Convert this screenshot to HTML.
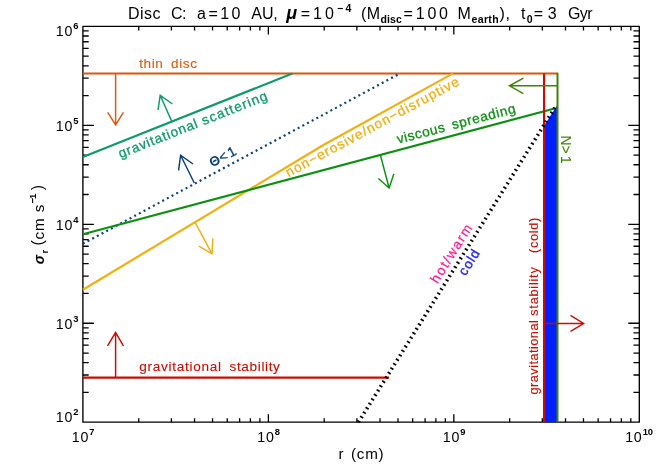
<!DOCTYPE html><html><head><meta charset="utf-8"><style>html,body{margin:0;padding:0;background:#fff;}svg{display:block;font-family:"Liberation Sans",sans-serif;will-change:transform;mix-blend-mode:multiply;}</style></head><body>
<svg width="664" height="475" viewBox="0 0 664 475">
<rect width="664" height="475" fill="#fff"/>
<path d="M138.73 422.2v-4M138.73 26.4v4M171.39 422.2v-4M171.39 26.4v4M194.56 422.2v-4M194.56 26.4v4M212.54 422.2v-4M212.54 26.4v4M227.22 422.2v-4M227.22 26.4v4M239.64 422.2v-4M239.64 26.4v4M250.39 422.2v-4M250.39 26.4v4M259.88 422.2v-4M259.88 26.4v4M268.37 422.2v-8M268.37 26.4v8M324.20 422.2v-4M324.20 26.4v4M356.86 422.2v-4M356.86 26.4v4M380.03 422.2v-4M380.03 26.4v4M398.00 422.2v-4M398.00 26.4v4M412.69 422.2v-4M412.69 26.4v4M425.10 422.2v-4M425.10 26.4v4M435.86 422.2v-4M435.86 26.4v4M445.35 422.2v-4M445.35 26.4v4M453.83 422.2v-8M453.83 26.4v8M509.66 422.2v-4M509.66 26.4v4M542.32 422.2v-4M542.32 26.4v4M565.50 422.2v-4M565.50 26.4v4M583.47 422.2v-4M583.47 26.4v4M598.15 422.2v-4M598.15 26.4v4M610.57 422.2v-4M610.57 26.4v4M621.33 422.2v-4M621.33 26.4v4M630.81 422.2v-4M630.81 26.4v4M82.9 95.56h5.8M639.3 95.56h-5.8M82.9 78.14h5.8M639.3 78.14h-5.8M82.9 65.78h5.8M639.3 65.78h-5.8M82.9 56.19h5.8M639.3 56.19h-5.8M82.9 48.35h5.8M639.3 48.35h-5.8M82.9 41.73h5.8M639.3 41.73h-5.8M82.9 35.99h5.8M639.3 35.99h-5.8M82.9 30.93h5.8M639.3 30.93h-5.8M82.9 125.35h11M639.3 125.35h-11M82.9 194.51h5.8M639.3 194.51h-5.8M82.9 177.09h5.8M639.3 177.09h-5.8M82.9 164.73h5.8M639.3 164.73h-5.8M82.9 155.14h5.8M639.3 155.14h-5.8M82.9 147.30h5.8M639.3 147.30h-5.8M82.9 140.68h5.8M639.3 140.68h-5.8M82.9 134.94h5.8M639.3 134.94h-5.8M82.9 129.88h5.8M639.3 129.88h-5.8M82.9 224.30h11M639.3 224.30h-11M82.9 293.46h5.8M639.3 293.46h-5.8M82.9 276.04h5.8M639.3 276.04h-5.8M82.9 263.68h5.8M639.3 263.68h-5.8M82.9 254.09h5.8M639.3 254.09h-5.8M82.9 246.25h5.8M639.3 246.25h-5.8M82.9 239.63h5.8M639.3 239.63h-5.8M82.9 233.89h5.8M639.3 233.89h-5.8M82.9 228.83h5.8M639.3 228.83h-5.8M82.9 323.25h11M639.3 323.25h-11M82.9 392.41h5.8M639.3 392.41h-5.8M82.9 374.99h5.8M639.3 374.99h-5.8M82.9 362.63h5.8M639.3 362.63h-5.8M82.9 353.04h5.8M639.3 353.04h-5.8M82.9 345.20h5.8M639.3 345.20h-5.8M82.9 338.58h5.8M639.3 338.58h-5.8M82.9 332.84h5.8M639.3 332.84h-5.8M82.9 327.78h5.8M639.3 327.78h-5.8" stroke="#000" stroke-width="1.3" fill="none"/>
<rect x="82.9" y="26.4" width="556.4" height="395.8" fill="none" stroke="#000" stroke-width="1.35" stroke-linejoin="round"/>
<polygon points="545,422.2 545,124.3 557,105.5 557,422.2" fill="#0020FF"/>
<line x1="82.9" y1="73.5" x2="557.5" y2="73.5" stroke="#DC5808" stroke-width="2.1" />
<line x1="82.9" y1="157" x2="292.3" y2="73.6" stroke="#0F9A6C" stroke-width="2.2" />
<line x1="82.9" y1="243.7" x2="399.8" y2="73.6" stroke="#0B3F7A" stroke-width="2.2" stroke-dasharray="2 3.3"/>
<polyline points="82.9,289.7 323,145.2 453.1,73.4" fill="none" stroke="#F0B010" stroke-width="2.2"/>
<line x1="82.9" y1="234.3" x2="555.5" y2="108.3" stroke="#0C9012" stroke-width="2.2" />
<line x1="82.9" y1="377.6" x2="389" y2="377.6" stroke="#CC0C00" stroke-width="2.2" />
<line x1="557.5" y1="72.7" x2="557.5" y2="422.2" stroke="#3F8208" stroke-width="2" />
<line x1="544.1" y1="73.6" x2="544.1" y2="422.2" stroke="#CC0C00" stroke-width="2.2" />
<line x1="358.4" y1="422.2" x2="555.9" y2="106" stroke="#000" stroke-width="3.6" stroke-dasharray="1.7 3.5"/>
<path d="M115.6 73.6L115.6 124.9M107.7 112.3L115.6 124.9L123.4 112.3" fill="none" stroke="#DC5808" stroke-width="1.45" stroke-linejoin="miter"/>
<path d="M171.5 120.9L160.2 95.3M158 110.2L160.2 95.3L172.5 104" fill="none" stroke="#0F9A6C" stroke-width="1.45" stroke-linejoin="miter"/>
<path d="M194.3 183L180.6 155.2M178.6 170.3L180.6 155.2L193 164" fill="none" stroke="#0B3F7A" stroke-width="1.45" stroke-linejoin="miter"/>
<path d="M195 222.2L212 253.8M198.8 246.2L212 253.8L212.9 238.4" fill="none" stroke="#F0B010" stroke-width="1.45" stroke-linejoin="miter"/>
<path d="M380.3 154.8L389.1 188M378.4 178.5L389.1 188L393.9 173.7" fill="none" stroke="#0C9012" stroke-width="1.45" stroke-linejoin="miter"/>
<path d="M557.5 85.8L509.5 85.8M523.4 78.2L509.5 85.8L523.4 93.6" fill="none" stroke="#3F8208" stroke-width="1.45" stroke-linejoin="miter"/>
<path d="M115.6 377.6L115.6 332.5M107.5 345.8L115.6 332.5L123.4 345.8" fill="none" stroke="#CC0C00" stroke-width="1.45" stroke-linejoin="miter"/>
<path d="M544.1 323.5L583.6 323.5M570.5 315.4L583.6 323.5L570.5 331.3" fill="none" stroke="#CC0C00" stroke-width="1.45" stroke-linejoin="miter"/>
<text x="71.85000000000001" y="442.4" font-size="14.2" fill="#000" text-anchor="start" textLength="16.6" lengthAdjust="spacing" >10</text>
<text x="89.35000000000001" y="435.09999999999997" font-size="9.4" fill="#000" text-anchor="start" font-weight="bold">7</text>
<text x="257.31666666666666" y="442.4" font-size="14.2" fill="#000" text-anchor="start" textLength="16.6" lengthAdjust="spacing" >10</text>
<text x="274.81666666666666" y="435.09999999999997" font-size="9.4" fill="#000" text-anchor="start" font-weight="bold">8</text>
<text x="442.78333333333336" y="442.4" font-size="14.2" fill="#000" text-anchor="start" textLength="16.6" lengthAdjust="spacing" >10</text>
<text x="460.28333333333336" y="435.09999999999997" font-size="9.4" fill="#000" text-anchor="start" font-weight="bold">9</text>
<text x="625.15" y="442.4" font-size="14.2" fill="#000" text-anchor="start" textLength="16.6" lengthAdjust="spacing" >10</text>
<text x="642.65" y="435.09999999999997" font-size="9.4" fill="#000" text-anchor="start" font-weight="bold">10</text>
<text x="55.8" y="36.0" font-size="14.2" fill="#000" text-anchor="start" textLength="16.6" lengthAdjust="spacing" >10</text>
<text x="73.3" y="28.7" font-size="9.4" fill="#000" text-anchor="start" font-weight="bold">6</text>
<text x="55.8" y="131.25" font-size="14.2" fill="#000" text-anchor="start" textLength="16.6" lengthAdjust="spacing" >10</text>
<text x="73.3" y="123.95" font-size="9.4" fill="#000" text-anchor="start" font-weight="bold">5</text>
<text x="55.8" y="230.20000000000002" font-size="14.2" fill="#000" text-anchor="start" textLength="16.6" lengthAdjust="spacing" >10</text>
<text x="73.3" y="222.9" font-size="9.4" fill="#000" text-anchor="start" font-weight="bold">4</text>
<text x="55.8" y="329.15" font-size="14.2" fill="#000" text-anchor="start" textLength="16.6" lengthAdjust="spacing" >10</text>
<text x="73.3" y="321.84999999999997" font-size="9.4" fill="#000" text-anchor="start" font-weight="bold">3</text>
<text x="55.8" y="422.0" font-size="14.2" fill="#000" text-anchor="start" textLength="16.6" lengthAdjust="spacing" >10</text>
<text x="73.3" y="414.7" font-size="9.4" fill="#000" text-anchor="start" font-weight="bold">2</text>
<text x="338.6" y="459.0" font-size="15.2" fill="#000" text-anchor="start" >r</text>
<text x="351.0" y="459.0" font-size="15.2" fill="#000" text-anchor="start" textLength="32.6" lengthAdjust="spacing" >(cm)</text>
<text x="44.2" y="264.2" font-size="14.2" fill="#000" text-anchor="start" transform="rotate(-90 44.2 264.2)" font-weight="bold" font-style="italic">&#963;</text>
<text x="47.800000000000004" y="253.4" font-size="9.6" fill="#000" text-anchor="start" transform="rotate(-90 47.800000000000004 253.4)" font-weight="bold">r</text>
<text x="43.2" y="245.6" font-size="15.799999999999999" fill="#000" text-anchor="start" transform="rotate(-90 43.2 245.6)" >(</text>
<text x="44.2" y="239.4" font-size="15.2" fill="#000" text-anchor="start" textLength="21" lengthAdjust="spacing" transform="rotate(-90 44.2 239.4)" >cm</text>
<text x="44.2" y="212.2" font-size="15.2" fill="#000" text-anchor="start" transform="rotate(-90 44.2 212.2)" >s</text>
<text x="36.400000000000006" y="203.2" font-size="9.8" fill="#000" text-anchor="start" textLength="9.6" lengthAdjust="spacing" transform="rotate(-90 36.400000000000006 203.2)" font-weight="bold">&#8722;1</text>
<text x="43.2" y="190.2" font-size="15.799999999999999" fill="#000" text-anchor="start" transform="rotate(-90 43.2 190.2)" >)</text>
<text x="128" y="18.8" font-size="16" fill="#000" text-anchor="start" textLength="32.5" lengthAdjust="spacing" >Disc</text>
<text x="171" y="18.8" font-size="16" fill="#000" text-anchor="start" textLength="15.5" lengthAdjust="spacing" >C:</text>
<text x="197" y="18.8" font-size="16" fill="#000" text-anchor="start" textLength="43.5" lengthAdjust="spacing" >a=10</text>
<text x="251.3" y="18.8" font-size="16" fill="#000" text-anchor="start" textLength="26.5" lengthAdjust="spacing" >AU,</text>
<text x="286.2" y="18.8" font-size="18" fill="#000" text-anchor="start" font-weight="bold" font-style="italic">&#956;</text>
<text x="300.7" y="18.8" font-size="16" fill="#000" text-anchor="start" textLength="33.3" lengthAdjust="spacing" >=10</text>
<text x="337" y="12.0" font-size="10.5" fill="#000" text-anchor="start" textLength="14.4" lengthAdjust="spacing" font-weight="bold">&#8722;4</text>
<text x="360.9" y="18.8" font-size="16" fill="#000" text-anchor="start" textLength="19.1" lengthAdjust="spacing" >(M</text>
<text x="380.6" y="23.0" font-size="10.5" fill="#000" text-anchor="start" textLength="21.2" lengthAdjust="spacing" font-weight="bold">disc</text>
<text x="403.5" y="18.8" font-size="16" fill="#000" text-anchor="start" textLength="44.5" lengthAdjust="spacing" >=100</text>
<text x="457.6" y="18.8" font-size="16" fill="#000" text-anchor="start" >M</text>
<text x="471.5" y="23.0" font-size="10.5" fill="#000" text-anchor="start" textLength="27.1" lengthAdjust="spacing" font-weight="bold">earth</text>
<text x="499.6" y="18.8" font-size="16" fill="#000" text-anchor="start" textLength="10.4" lengthAdjust="spacing" >),</text>
<text x="520.9" y="18.8" font-size="16" fill="#000" text-anchor="start" >t</text>
<text x="526.8" y="23.0" font-size="10.5" fill="#000" text-anchor="start" font-weight="bold">0</text>
<text x="533.7" y="18.8" font-size="16" fill="#000" text-anchor="start" textLength="23" lengthAdjust="spacing" >=3</text>
<text x="568" y="18.8" font-size="16" fill="#000" text-anchor="start" textLength="24.6" lengthAdjust="spacing" >Gyr</text>
<text x="139.2" y="68.2" font-size="13.6" fill="#DC5808" text-anchor="start" textLength="23.6" lengthAdjust="spacing" stroke-width="0.1" stroke="#DC5808">thin</text>
<text x="171.0" y="68.2" font-size="13.6" fill="#DC5808" text-anchor="start" textLength="26.0" lengthAdjust="spacing" stroke-width="0.1" stroke="#DC5808">disc</text>
<text x="139.2" y="371.2" font-size="13.6" fill="#CC0C00" text-anchor="start" textLength="81.9" lengthAdjust="spacing" stroke-width="0.1" stroke="#CC0C00">gravitational</text>
<text x="229.5" y="371.2" font-size="13.6" fill="#CC0C00" text-anchor="start" textLength="50.4" lengthAdjust="spacing" stroke-width="0.1" stroke="#CC0C00">stability</text>
<text x="120.5" y="158.3" font-size="13.6" fill="#0F9A6C" text-anchor="start" textLength="84" lengthAdjust="spacing" transform="rotate(-21.7 120.5 158.3)" stroke-width="0.3" stroke="#0F9A6C">gravitational</text>
<text x="203.84" y="125.13" font-size="13.6" fill="#0F9A6C" text-anchor="start" textLength="69.4" lengthAdjust="spacing" transform="rotate(-21.7 203.84 125.13)" stroke-width="0.3" stroke="#0F9A6C">scattering</text>
<text x="212.3" y="167.5" font-size="13.6" fill="#0B3F7A" text-anchor="start" transform="rotate(-28 212.3 167.5)" font-weight="bold">&#920;</text>
<text x="221.66" y="162.52" font-size="13.8" fill="#0B3F7A" text-anchor="start" textLength="9.6" lengthAdjust="spacing" transform="rotate(-28 221.66 162.52)" stroke-width="0.3" stroke="#0B3F7A">&lt;</text>
<text x="230.49" y="157.83" font-size="13.8" fill="#0B3F7A" text-anchor="start" transform="rotate(-28 230.49 157.83)" stroke-width="0.3" stroke="#0B3F7A">1</text>
<text x="288.6" y="177.3" font-size="13.6" fill="#F0B010" text-anchor="start" textLength="195" lengthAdjust="spacing" transform="rotate(-28.4 288.6 177.3)" stroke-width="0.3" stroke="#F0B010">non&#8722;erosive/non&#8722;disruptive</text>
<text x="398.2" y="143.8" font-size="13.6" fill="#0C9012" text-anchor="start" textLength="48.9" lengthAdjust="spacing" transform="rotate(-14.8 398.2 143.8)" stroke-width="0.3" stroke="#0C9012">viscous</text>
<text x="453.02" y="129.32" font-size="13.6" fill="#0C9012" text-anchor="start" textLength="65.4" lengthAdjust="spacing" transform="rotate(-14.8 453.02 129.32)" stroke-width="0.3" stroke="#0C9012">spreading</text>
<text x="537.6" y="394.5" font-size="12.8" fill="#CC0C00" text-anchor="start" textLength="74.3" lengthAdjust="spacing" transform="rotate(-90 537.6 394.5)" stroke-width="0.1" stroke="#CC0C00">gravitational</text>
<text x="537.6" y="315.8" font-size="12.8" fill="#CC0C00" text-anchor="start" textLength="48.6" lengthAdjust="spacing" transform="rotate(-90 537.6 315.8)" stroke-width="0.1" stroke="#CC0C00">stability</text>
<text x="537.6" y="253.0" font-size="12.8" fill="#CC0C00" text-anchor="start" textLength="35.3" lengthAdjust="spacing" transform="rotate(-90 537.6 253.0)" stroke-width="0.1" stroke="#CC0C00">(cold)</text>
<text x="561.3" y="135.6" font-size="13.8" fill="#3F8208" text-anchor="start" transform="rotate(90 561.3 135.6)" stroke-width="0.1" stroke="#3F8208">N</text>
<text x="561.3" y="145.6" font-size="13.8" fill="#3F8208" text-anchor="start" transform="rotate(90 561.3 145.6)" stroke-width="0.1" stroke="#3F8208">&gt;</text>
<text x="561.3" y="156.0" font-size="13.8" fill="#3F8208" text-anchor="start" transform="rotate(90 561.3 156.0)" stroke-width="0.1" stroke="#3F8208">1</text>
<text x="437.6" y="284.2" font-size="13.6" fill="#FF1493" text-anchor="start" textLength="66.5" lengthAdjust="spacing" transform="rotate(-58 437.6 284.2)" stroke-width="0.2" stroke="#FF1493">hot/warm</text>
<text x="465.6" y="276.4" font-size="13.6" fill="#2424FF" text-anchor="start" textLength="27.5" lengthAdjust="spacing" transform="rotate(-58 465.6 276.4)" stroke-width="0.35" stroke="#2424FF">cold</text>
</svg></body></html>
